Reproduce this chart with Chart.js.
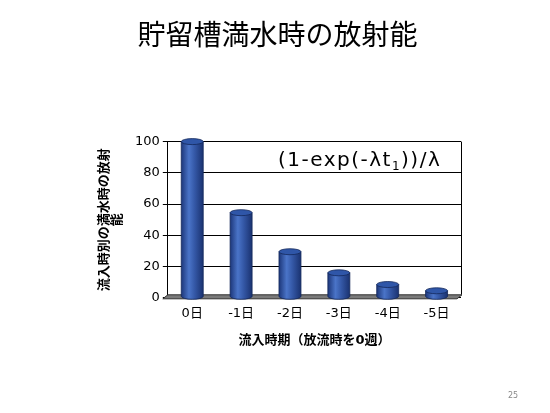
<!DOCTYPE html>
<html>
<head>
<meta charset="utf-8">
<script src="https://cdn.jsdelivr.net/npm/chart.js@4"></script>
<style>
  html, body { margin: 0; padding: 0; background: #fff; }
  #wrap { width: 550px; height: 413px; }
</style>
</head>
<body>
<div id="wrap"><canvas id="barChart" width="550" height="413"></canvas></div>
<script>
// data
const days = ["0日", "-1日", "-2日", "-3日", "-4日", "-5日"];
const activity = [100, 54.5, 29.5, 16, 8.5, 4.5];
const yTicks = [0, 20, 40, 60, 80, 100];

const JP = "'DejaVu Sans', 'Noto Sans CJK JP', sans-serif";

// draws the floor slab, right wall edge and the cylinder look of the bars
const cylinders = {
  id: "cylinders",
  beforeDatasetsDraw(chart) {
    const ctx = chart.ctx;
    const a = chart.chartArea;
    ctx.save();
    // right edge of back wall
    ctx.strokeStyle = "#000";
    ctx.lineWidth = 1;
    ctx.beginPath();
    ctx.moveTo(a.right + 0.5, a.top);
    ctx.lineTo(a.right + 0.5, a.bottom - 3);
    ctx.stroke();
    // floor
    ctx.fillStyle = "#7a7a7a";
    ctx.beginPath();
    ctx.moveTo(a.left - 5, a.bottom + 1);
    ctx.lineTo(a.left, a.bottom - 3);
    ctx.lineTo(a.right + 1, a.bottom - 3);
    ctx.lineTo(a.right - 4, a.bottom + 1);
    ctx.closePath();
    ctx.fill();
    ctx.strokeStyle = "#333";
    ctx.stroke();
    ctx.restore();
  },
  afterDatasetsDraw(chart) {
    const ctx = chart.ctx;
    const meta = chart.getDatasetMeta(0);
    ctx.save();
    meta.data.forEach((bar) => {
      const w = bar.width;
      const x0 = bar.x - w / 2;
      const top = bar.y;
      const base = bar.base - 1;
      const ry = 3;
      const g = ctx.createLinearGradient(x0, 0, x0 + w, 0);
      g.addColorStop(0, "#1d377a");
      g.addColorStop(0.35, "#4a74c8");
      g.addColorStop(0.6, "#3559a8");
      g.addColorStop(1, "#1a3270");
      ctx.fillStyle = g;
      ctx.beginPath();
      ctx.moveTo(x0, top);
      ctx.lineTo(x0, base);
      ctx.ellipse(bar.x, base, w / 2, ry, 0, Math.PI, 0, true);
      ctx.lineTo(x0 + w, top);
      ctx.closePath();
      ctx.fill();
      ctx.strokeStyle = "#14285a";
      ctx.lineWidth = 0.8;
      ctx.stroke();
      // top cap
      ctx.fillStyle = "#2f56a8";
      ctx.beginPath();
      ctx.ellipse(bar.x, top, w / 2, ry, 0, 0, Math.PI * 2);
      ctx.fill();
      ctx.stroke();
    });
    ctx.restore();
  },
  afterDraw(chart) {
    const ctx = chart.ctx;
    ctx.save();
    // formula label
    ctx.fillStyle = "#000";
    ctx.textBaseline = "alphabetic";
    ctx.letterSpacing = "1.5px";
    ctx.font = "20px " + JP;
    let x = 278;
    const y = 166;
    const parts = ["(1-exp(-λt", "))/λ"];
    ctx.fillText(parts[0], x, y);
    x += ctx.measureText(parts[0]).width;
    ctx.font = "12px " + JP;
    ctx.fillText("1", x, y + 4);
    x += ctx.measureText("1").width;
    ctx.font = "20px " + JP;
    ctx.fillText(parts[1], x, y);
    // page number
    ctx.letterSpacing = "0px";
    ctx.fillStyle = "#888";
    ctx.font = "8px " + JP;
    ctx.textAlign = "center";
    ctx.fillText("25", 513, 398);
    ctx.restore();
  }
};

new Chart(document.getElementById("barChart"), {
  type: "bar",
  data: {
    labels: days,
    datasets: [
      {
        data: activity,
        backgroundColor: "rgba(0,0,0,0)",
        borderWidth: 0,
        categoryPercentage: 1,
        barPercentage: 0.45,
      },
    ],
  },
  options: {
    responsive: false,
    animation: false,
    devicePixelRatio: 1,
    layout: {
      padding: { left: 94, right: 89, top: 0, bottom: 61 },
    },
    plugins: {
      legend: { display: false },
      tooltip: { enabled: false },
      title: {
        display: true,
        text: "貯留槽満水時の放射能",
        color: "#000",
        font: { family: JP, size: 28, weight: "normal" },
        padding: { top: 21, bottom: 87 },
      },
    },
    scales: {
      x: {
        grid: { display: false },
        border: { display: false },
        ticks: {
          color: "#000",
          font: { family: JP, size: 13 },
          padding: 0,
        },
        title: {
          display: true,
          text: "流入時期（放流時を0週）",
          color: "#000",
          font: { family: JP, size: 13, weight: "bold" },
          padding: { top: 11 },
        },
      },
      y: {
        min: 0,
        max: 100,
        afterBuildTicks(axis) {
          axis.ticks = yTicks.map((v) => ({ value: v }));
        },
        grid: {
          color: "#000",
          lineWidth: 1,
          tickLength: 5,
        },
        border: { color: "#000" },
        ticks: {
          color: "#000",
          font: { family: JP, size: 13 },
          padding: 3,
        },
        title: {
          display: true,
          text: ["流入時別の満水時の放射", "能"],
          color: "#000",
          font: { family: JP, size: 13, weight: "bold", lineHeight: 1 },
          padding: { bottom: 8 },
        },
      },
    },
  },
  plugins: [cylinders],
});
</script>
</body>
</html>
